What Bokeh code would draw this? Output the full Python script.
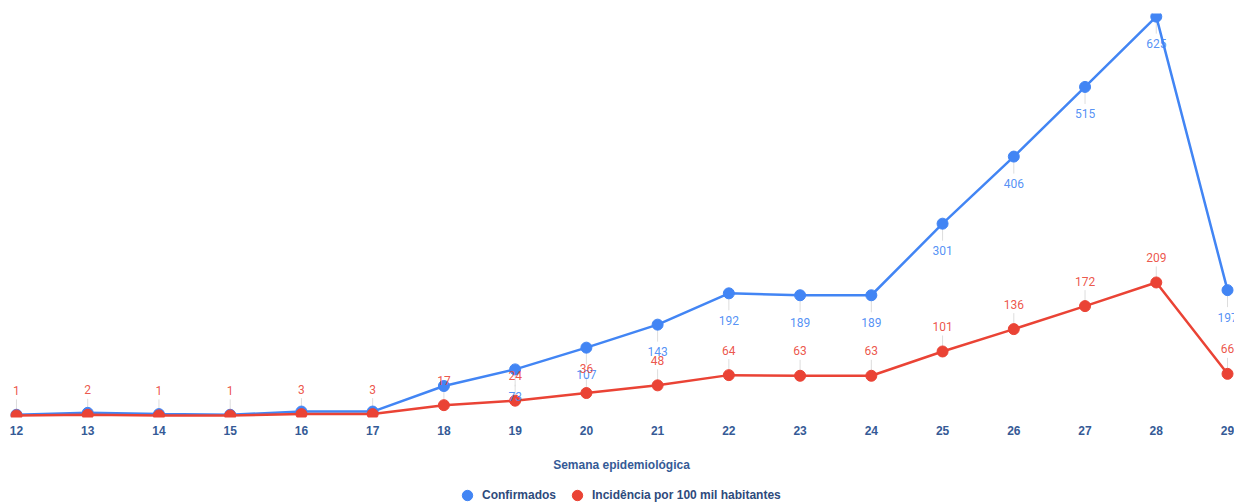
import numpy as np
from bokeh.plotting import figure
from bokeh.models import ColumnDataSource, Legend, LegendItem, Range1d, FixedTicker, BoxAnnotation
from bokeh.core.properties import value
from bokeh.embed import file_html
from bokeh.resources import INLINE

weeks = [12, 13, 14, 15, 16, 17, 18, 19, 20, 21, 22, 23, 24, 25, 26, 27, 28, 29]
confirmados = [2, 5, 3, 2, 7, 7, 47, 73, 107, 143, 192, 189, 189, 301, 406, 515, 625, 197]
incidencia = [1, 2, 1, 1, 3, 3, 17, 24, 36, 48, 64, 63, 63, 101, 136, 172, 209, 66]
# blue labels of the first weeks are hidden in the reference (overlap)
blue_label_from_week = 19

BLUE = "#4285F4"
RED = "#EA4335"
AXIS_COL = "#355a96"
LEG_COL = "#2e4a7c"

FRAME_W = 1226
TOP = 13
PLOT_H = 404          # height of the drawing area above the axis
FRAME_H = 489         # frame runs down to the bottom of the window
y_top = 629.9
axis_y = -2.3
px_per_unit = PLOT_H / (y_top - axis_y)
y_bottom = axis_y - (FRAME_H - PLOT_H) / px_per_unit

p = figure(frame_width=FRAME_W, frame_height=FRAME_H, output_backend="svg", toolbar_location=None,
           x_range=Range1d(11.888, 29.098), y_range=Range1d(y_bottom, y_top),
           y_axis_location=None, min_border_left=8, min_border_right=0,
           min_border_top=TOP, min_border_bottom=0, outline_line_color=None)
p.xgrid.visible = False
p.ygrid.visible = False

ax = p.xaxis[0]
ax.fixed_location = axis_y
ax.ticker = FixedTicker(ticks=weeks)
ax.axis_line_color = None
ax.major_tick_line_color = None
ax.minor_tick_line_color = None
ax.major_tick_out = 0
ax.major_tick_in = 0
ax.major_label_standoff = 8
ax.major_label_text_font = "Liberation Sans"
ax.major_label_text_font_style = "bold"
ax.major_label_text_font_size = "12px"
ax.major_label_text_color = AXIS_COL
ax.axis_label = "Semana epidemiológica"
ax.axis_label_standoff = 20
ax.axis_label_text_font = "Liberation Sans"
ax.axis_label_text_font_style = "bold"
ax.axis_label_text_font_size = "12px"
ax.axis_label_text_color = AXIS_COL

blue_src = ColumnDataSource(dict(x=weeks, y=confirmados))
red_src = ColumnDataSource(dict(x=weeks, y=incidencia))

# leader lines
lead_b = 12 / px_per_unit
lead_r = 11 / px_per_unit
bx = [w for w in weeks if w >= blue_label_from_week]
by = [c for w, c in zip(weeks, confirmados) if w >= blue_label_from_week]
p.segment(x0=bx, y0=[v - 5 / px_per_unit for v in by], x1=bx,
          y1=[v - 5 / px_per_unit - lead_b for v in by], line_color="#dddddd", line_width=1)
p.segment(x0=weeks, y0=[v + 5 / px_per_unit for v in incidencia], x1=weeks,
          y1=[v + 5 / px_per_unit + lead_r for v in incidencia], line_color="#dddddd", line_width=1)

p.line("x", "y", source=blue_src, line_color=BLUE, line_width=2.5)
rb = p.scatter("x", "y", source=blue_src, size=11, fill_color=BLUE, line_color=BLUE)
p.line("x", "y", source=red_src, line_color=RED, line_width=2.5)
rr = p.scatter("x", "y", source=red_src, size=11, fill_color=RED, line_color=RED)

p.text(x=bx, y=by, text=[str(v) for v in by], y_offset=27,
       text_align="center", text_baseline="middle", text_font=value("Roboto"),
       text_font_size="12px", text_color=BLUE, text_alpha=0.9)
p.text(x=weeks, y=incidencia, text=[str(v) for v in incidencia], y_offset=-25,
       text_align="center", text_baseline="middle", text_font=value("Roboto"),
       text_font_size="12px", text_color=RED, text_alpha=0.9)

# plot area ends at the axis: hide what lies below it
mask = BoxAnnotation(top=axis_y, fill_color="white", fill_alpha=1.0, line_color=None, level="glyph")
p.add_layout(mask)

legend = Legend(items=[LegendItem(label="Confirmados", renderers=[rb]),
                       LegendItem(label="Incidência por 100 mil habitantes", renderers=[rr])],
                orientation="horizontal", location=(446, -6),
                border_line_color=None, background_fill_alpha=0,
                label_text_font="Liberation Sans", label_text_font_style="bold",
                label_text_font_size="12px", label_text_color=LEG_COL,
                glyph_width=26, glyph_height=26, label_height=26, label_standoff=2, spacing=8,
                padding=0, margin=0)
p.add_layout(legend, "center")

open("out.html", "w").write(file_html(p, INLINE))
